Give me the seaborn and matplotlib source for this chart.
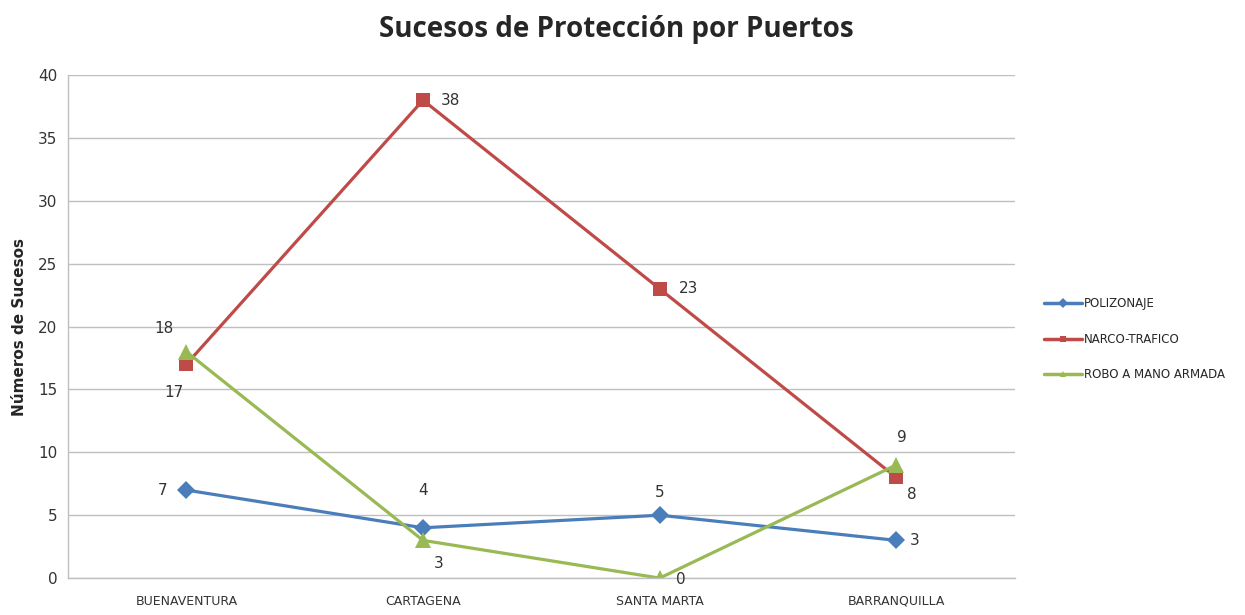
import pandas as pd
import seaborn as sns
import matplotlib.pyplot as plt

# Data
puertos = ["BUENAVENTURA", "CARTAGENA", "SANTA MARTA", "BARRANQUILLA"]
polizonaje = [7, 4, 5, 3]
narco_trafico = [17, 38, 23, 8]
robo_mano_armada = [18, 3, 0, 9]

series_names = ["POLIZONAJE", "NARCO-TRAFICO", "ROBO A MANO ARMADA"]
series_values = [polizonaje, narco_trafico, robo_mano_armada]
colors = ["#4A7EBB", "#BE4B48", "#98B954"]
markers = ["D", "s", "^"]
marker_sizes = [9, 10, 11]

# label offsets (points) for each data label, per series
offsets = [
    [(-17, 0), (0, 27), (0, 16), (13, 0)],
    [(-9, -20), (20, 0), (21, 0), (11, -12)],
    [(-16, 17), (11, -17), (15, -1), (4, 20)],
]

rows = []
for name, vals in zip(series_names, series_values):
    for p, v in zip(puertos, vals):
        rows.append({"Puerto": p, "Serie": name, "Valor": v})
df = pd.DataFrame(rows)

sns.set_style("white")
plt.rcParams["font.family"] = ["DejaVu Sans"]

fig = plt.figure(figsize=(12.45, 6.15), dpi=100)
ax = fig.add_axes([0.0546, 0.060, 0.7604, 0.818])

sns.lineplot(
    data=df, x="Puerto", y="Valor", hue="Serie",
    palette=dict(zip(series_names, colors)),
    dashes=False, sort=False, linewidth=2.3, ax=ax, legend=False,
)
for name, vals, c, m, ms in zip(series_names, series_values, colors, markers, marker_sizes):
    ax.plot(range(len(puertos)), vals, linestyle="none", marker=m,
            markersize=ms, color=c, markeredgewidth=0)

for vals, offs in zip(series_values, offsets):
    for i, (v, off) in enumerate(zip(vals, offs)):
        ax.annotate(str(v), (i, v), xytext=off, textcoords="offset points",
                    ha="center", va="center", fontsize=11, color="#333333")

ax.set_xlim(-0.5, 3.5)
ax.set_ylim(0, 40)
ax.set_yticks(range(0, 41, 5))
ax.yaxis.grid(True, color="#BFBFBF", linewidth=1)
ax.set_axisbelow(True)
for s in ["top", "right"]:
    ax.spines[s].set_visible(False)
for s in ["left", "bottom"]:
    ax.spines[s].set_color("#BFBFBF")
    ax.spines[s].set_linewidth(1)
ax.tick_params(axis="y", labelsize=11, colors="#333333", length=4, color="#BFBFBF")
ax.tick_params(axis="x", labelsize=9, colors="#333333", length=0, pad=12)
ax.set_xlabel("")
ax.set_ylabel("Números de Sucesos", fontsize=11, fontweight="bold", labelpad=8)

fig.suptitle("Sucesos de Protección por Puertos", x=0.495, y=0.975,
             fontsize=20, fontweight="bold", family=["Open Sans", "DejaVu Sans"])

handles = [plt.Line2D([], [], color=c, marker=m, markersize=5, linewidth=2.5,
                      markeredgewidth=0)
           for c, m in zip(colors, markers)]
ax.legend(handles, series_names, loc="center left", bbox_to_anchor=(1.02, 0.475),
          frameon=False, fontsize=8.5, handlelength=3.2, labelspacing=1.9,
          handletextpad=0.2)

fig.savefig("out.png", dpi=100)
